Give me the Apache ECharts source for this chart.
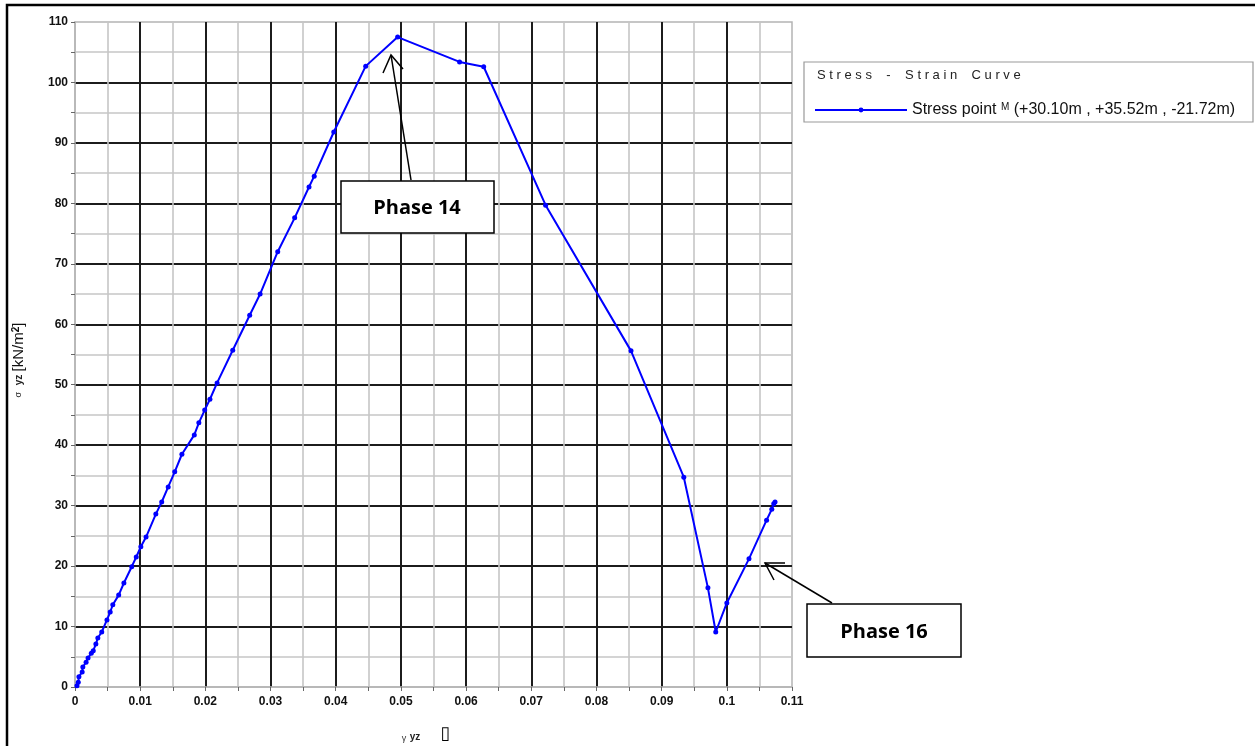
<!DOCTYPE html>
<html>
<head>
<meta charset="utf-8">
<script src="https://cdn.jsdelivr.net/npm/echarts@6/dist/echarts.min.js"></script>
<style>
  html, body { margin: 0; padding: 0; background: #fff; }
  #chart { width: 1255px; height: 746px; }
</style>
</head>
<body>
<div id="chart"></div>
<script>
// Shear strain γyz (x) and shear stress σyz in kN/m² (y) at stress point M
const strainYZ = [
  0.0003, 0.0005, 0.0006, 0.0011, 0.0012, 0.0017, 0.0020, 0.0025, 0.0028, 0.0032,
  0.0035, 0.0041, 0.0049, 0.0054, 0.0058, 0.0067, 0.0075, 0.0087, 0.0094, 0.0101,
  0.0109, 0.0124, 0.0133, 0.0143, 0.0153, 0.0164, 0.0183, 0.0190, 0.0199, 0.0207,
  0.0218, 0.0242, 0.0268, 0.0284, 0.0311, 0.0337, 0.0359, 0.0367, 0.0397, 0.0446,
  0.0495, 0.0590, 0.0627, 0.0722, 0.0853, 0.0934, 0.0971, 0.0983, 0.1000, 0.1034,
  0.1061, 0.1069, 0.1072, 0.1074
];
const stressYZ = [
  0.2, 0.8, 1.7, 2.5, 3.3, 4.1, 4.8, 5.6, 6.0, 7.1,
  8.1, 9.1, 11.1, 12.4, 13.6, 15.2, 17.2, 19.9, 21.5, 23.2,
  24.8, 28.6, 30.6, 33.1, 35.6, 38.5, 41.7, 43.7, 45.8, 47.6,
  50.3, 55.7, 61.5, 65.0, 72.0, 77.6, 82.7, 84.5, 91.8, 102.7,
  107.5, 103.4, 102.6, 79.7, 55.6, 34.7, 16.4, 9.1, 13.9, 21.2,
  27.6, 29.4, 30.3, 30.6
];
const xTicks = { min: 0, max: 0.11, step: 0.01 };
const yTicks = { min: 0, max: 110, step: 10 };
const legendTitle = 'S t r e s s    -    S t r a i n    C u r v e';
const seriesName = 'Stress point M (+30.10m , +35.52m , -21.72m)';
const phaseLabels = ['Phase 14', 'Phase 16'];

const points = strainYZ.map((x, i) => [x, stressYZ[i]]);
const FONT = '"Liberation Sans", Arial, sans-serif';

const chart = echarts.init(document.getElementById('chart'), null, { renderer: 'canvas' });

const axisCommon = {
  axisLine: { show: true, lineStyle: { color: '#b4b4b4', width: 1.5 } },
  axisTick: { show: true, length: 4, lineStyle: { color: '#666', width: 1 } },
  minorTick: { show: true, splitNumber: 2, length: 4, lineStyle: { color: '#666', width: 1 } },
  splitLine: { show: true, showMinLine: false, showMaxLine: false, lineStyle: { color: '#1c1c1c', width: 2 } },
  minorSplitLine: { show: true, lineStyle: { color: '#c6c6c6', width: 1.6 } },
  axisLabel: { color: '#111', fontFamily: FONT, fontSize: 12, fontWeight: 'bold' }
};

const option = {
  animation: false,
  backgroundColor: '#fff',
  grid: {
    left: 75, top: 22, right: 463, bottom: 59,
    show: true, borderColor: '#b4b4b4', borderWidth: 1.5, backgroundColor: 'transparent'
  },
  xAxis: Object.assign({}, axisCommon, {
    type: 'value', min: xTicks.min, max: xTicks.max, interval: xTicks.step,
    axisLabel: Object.assign({}, axisCommon.axisLabel, {
      margin: 9,
      formatter: v => String(+v.toFixed(2))
    })
  }),
  yAxis: Object.assign({}, axisCommon, {
    type: 'value', min: yTicks.min, max: yTicks.max, interval: yTicks.step,
    axisLabel: Object.assign({}, axisCommon.axisLabel, { margin: 7 })
  }),
  legend: {
    left: 809, top: 97, itemWidth: 92, itemHeight: 6, itemGap: 0,
    data: [seriesName],
    formatter: name => {
      const i = name.indexOf('M (');
      return '{a|' + name.slice(0, i) + '}{m|M}{a|' + name.slice(i + 1) + '}';
    },
    textStyle: {
      rich: {
        a: { fontFamily: FONT, fontSize: 16, color: '#111' },
        m: { fontFamily: FONT, fontSize: 10, color: '#111', verticalAlign: 'top', padding: [0, 0, 4, 0] }
      }
    }
  },
  series: [{
    name: seriesName,
    type: 'line',
    data: points,
    color: '#0000ff',
    lineStyle: { color: '#0000ff', width: 2 },
    symbol: 'circle',
    symbolSize: 5,
    itemStyle: { color: '#0000ff' },
    z: 5
  }],
  graphic: [
    // outer frame
    { type: 'rect', shape: { x: 7, y: 5, width: 1270, height: 770 },
      style: { fill: 'none', stroke: '#000', lineWidth: 2.5 }, silent: true },
    // legend frame and title
    { type: 'rect', shape: { x: 804, y: 62, width: 449, height: 60 },
      style: { fill: 'none', stroke: '#999', lineWidth: 1.2 } },
    { type: 'text', x: 817, y: 75,
      style: { text: legendTitle, fontFamily: FONT, fontSize: 13, fill: '#222', textVerticalAlign: 'middle' } },
    // y-axis title
    { type: 'text', x: 19, y: 360, rotation: Math.PI / 2,
      style: {
        text: '{s|σ}  {sub|yz} {b|[kN/m}{sup|2}{b|]}',
        textAlign: 'center', textVerticalAlign: 'middle',
        rich: {
          s: { fontFamily: FONT, fontSize: 9, fill: '#333' },
          sub: { fontFamily: FONT, fontSize: 10, fontWeight: 'bold', fill: '#222' },
          b: { fontFamily: FONT, fontSize: 15, fill: '#111' },
          sup: { fontFamily: FONT, fontSize: 10, fontWeight: 'bold', fill: '#111', verticalAlign: 'top', padding: [0, 0, 6, 0] }
        }
      } },
    // x-axis title
    { type: 'text', x: 426, y: 736,
      style: {
        text: '{s|γ} {sub|yz}      {box|▯}',
        textAlign: 'center', textVerticalAlign: 'middle',
        rich: {
          s: { fontFamily: FONT, fontSize: 9, fill: '#333', padding: [6, 0, 0, 0] },
          sub: { fontFamily: FONT, fontSize: 10, fontWeight: 'bold', fill: '#222', padding: [2, 0, 0, 0] },
          box: { fontFamily: '"DejaVu Sans", sans-serif', fontSize: 18, fontWeight: 'bold', fill: '#000', padding: [0, 0, 4, 0] }
        }
      } },
    // Phase 14 callout
    { type: 'rect', shape: { x: 341, y: 181, width: 153, height: 52 },
      style: { fill: '#fff', stroke: '#000', lineWidth: 1.5 }, z: 10 },
    { type: 'text', x: 417, y: 208, z: 11,
      style: { text: phaseLabels[0], fontFamily: '"Open Sans", "Noto Sans", sans-serif', fontSize: 20, fontWeight: 'bold',
               fill: '#000', textAlign: 'center', textVerticalAlign: 'middle' } },
    { type: 'polyline', z: 10, shape: { points: [[411, 180], [391, 55]] },
      style: { stroke: '#000', lineWidth: 1.5, fill: 'none' } },
    { type: 'polyline', z: 10, shape: { points: [[383, 73], [391, 55], [403, 69]] },
      style: { stroke: '#000', lineWidth: 1.5, fill: 'none' } },
    // Phase 16 callout
    { type: 'rect', shape: { x: 807, y: 604, width: 154, height: 53 },
      style: { fill: '#fff', stroke: '#000', lineWidth: 1.5 }, z: 10 },
    { type: 'text', x: 884, y: 632, z: 11,
      style: { text: phaseLabels[1], fontFamily: '"Open Sans", "Noto Sans", sans-serif', fontSize: 20, fontWeight: 'bold',
               fill: '#000', textAlign: 'center', textVerticalAlign: 'middle' } },
    { type: 'polyline', z: 10, shape: { points: [[832, 603], [765, 563]] },
      style: { stroke: '#000', lineWidth: 1.5, fill: 'none' } },
    { type: 'polyline', z: 10, shape: { points: [[785, 563], [765, 563], [774, 580]] },
      style: { stroke: '#000', lineWidth: 1.5, fill: 'none' } }
  ]
};

chart.setOption(option);
</script>
</body>
</html>
